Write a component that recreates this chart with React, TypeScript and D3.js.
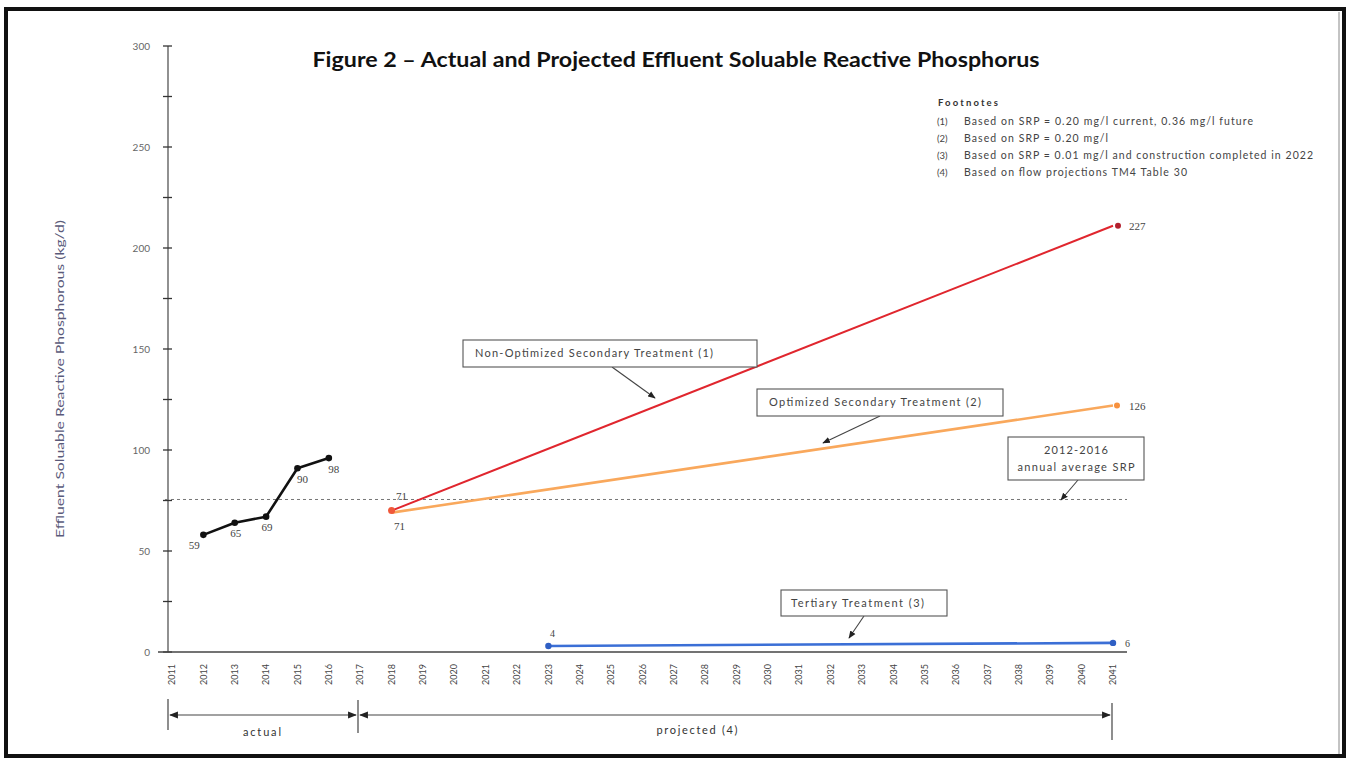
import * as d3 from 'd3';

// values
const years = d3.range(2011, 2042);
const actualYears = [2012, 2013, 2014, 2015, 2016];
const actualValues = [58, 64, 67, 91, 96];
const actualLabels = ['59', '65', '69', '90', '98'];
const projYears = [2018, 2041];
const nonOptValues = [70, 211];
const optValues = [69, 122];
const tertYears = [2023, 2041];
const tertValues = [3, 4.5];
const avgSrp = 75.5;
const yTicks = d3.range(0, 301, 25);
const footnotes = [
  ['(1)', 'Based on SRP = 0.20 mg/l current, 0.36 mg/l future'],
  ['(2)', 'Based on SRP = 0.20 mg/l'],
  ['(3)', 'Based on SRP = 0.01 mg/l and construction completed in 2022'],
  ['(4)', 'Based on flow projections TM4 Table 30'],
];
const footnoteWidths = [289, 144, 349, 223];

const W = 1356;
const H = 767;
const sans = "Lato, 'Open Sans', sans-serif";
const serif = "'Liberation Serif', 'DejaVu Serif', serif";

export default function App() {
  const x = d3.scaleLinear().domain([2011, 2041]).range([172, 1113]);
  const y = d3.scaleLinear().domain([0, 300]).range([652, 46]);
  const axisX = 168;

  const line = d3.line<[number, number]>()
    .x(d => x(d[0]))
    .y(d => y(d[1]));

  const actualPts = actualYears.map((yr, i) => [yr, actualValues[i]] as [number, number]);
  const nonOptPts = projYears.map((yr, i) => [yr, nonOptValues[i]] as [number, number]);
  const optPts = projYears.map((yr, i) => [yr, optValues[i]] as [number, number]);
  const tertPts = tertYears.map((yr, i) => [yr, tertValues[i]] as [number, number]);

  // callout boxes with a pointer line
  const callouts = [
    { x: 463, y: 340, w: 294, h: 27, lines: ['Non-Optimized Secondary Treatment (1)'], widths: [238], from: [612, 367], to: [655, 398], align: 'start', pad: 12 },
    { x: 757, y: 389, w: 246, h: 27, lines: ['Optimized Secondary Treatment (2)'], widths: [212], from: [880, 416], to: [823, 443], align: 'start', pad: 12 },
    { x: 1008, y: 437, w: 136, h: 43, lines: ['2012-2016', 'annual average SRP'], widths: [64, 117], from: [1078, 480], to: [1061, 500], align: 'middle', pad: 0 },
    { x: 781, y: 590, w: 166, h: 26, lines: ['Tertiary Treatment (3)'], widths: [133], from: [864, 616], to: [849, 638], align: 'start', pad: 10 },
  ];

  const bracketY = 715;

  return (
    <svg width={W} height={H} style={{ position: 'absolute', left: 0, top: 0, background: '#fff' }}>
      <defs>
        <marker id="arr" viewBox="0 0 10 10" refX="9" refY="5" markerWidth="7" markerHeight="7" orient="auto">
          <path d="M0,1 L10,5 L0,9 Z" fill="#222" />
        </marker>
        <marker id="arrB" viewBox="0 0 10 10" refX="9" refY="5" markerWidth="8" markerHeight="8" orient="auto-start-reverse">
          <path d="M0,1 L10,5 L0,9 Z" fill="#222" />
        </marker>
      </defs>

      {/* page frame */}
      <rect x={6} y={9} width={1338} height={747} fill="none" stroke="#111" strokeWidth={4} />
      <line x1={1339} y1={12} x2={1339} y2={754} stroke="#888" strokeWidth={1} />

      {/* title */}
      <text x={676} y={67} textAnchor="middle" fontFamily={sans} fontWeight="bold" fontSize={21}
        fill="#111" textLength={727} lengthAdjust="spacingAndGlyphs">
        Figure 2 – Actual and Projected Effluent Soluable Reactive Phosphorus
      </text>

      {/* y axis */}
      <line x1={axisX} y1={y(300)} x2={axisX} y2={y(0)} stroke="#555" strokeWidth={1.3} />
      {yTicks.map(t => (
        <g key={t}>
          <line x1={axisX - 5} x2={axisX + 4} y1={y(t)} y2={y(t)} stroke="#333" strokeWidth={1.3} />
          {t % 50 === 0 && (
            <text x={axisX - 18} y={y(t)} dy="0.35em" textAnchor="end" fontFamily={sans} fontSize={10} fill="#666">
              {t}
            </text>
          )}
        </g>
      ))}
      <text transform={`translate(64,${(y(0) + y(300)) / 2 + 30}) rotate(-90)`} textAnchor="middle"
        fontFamily={sans} fontSize={11} fill="#5a5a7a" textLength={318} lengthAdjust="spacingAndGlyphs">
        Effluent Soluable Reactive Phosphorous (kg/d)
      </text>

      {/* x axis */}
      <line x1={158} x2={1127} y1={y(0)} y2={y(0)} stroke="#444" strokeWidth={1.3} />
      {years.map(yr => (
        <text key={yr} transform={`translate(${x(yr)},${y(0) + 12}) rotate(-90)`} textAnchor="end" dy="0.35em"
          fontFamily={sans} fontSize={9} fill="#444">
          {yr}
        </text>
      ))}

      {/* average line */}
      <line x1={165} x2={1127} y1={y(avgSrp)} y2={y(avgSrp)} stroke="#777" strokeWidth={1} strokeDasharray="3,3" />

      {/* actual */}
      <path d={line(actualPts) || ''} fill="none" stroke="#111" strokeWidth={2.6} strokeLinejoin="round" />
      {actualPts.map((p, i) => (
        <g key={i}>
          <circle cx={x(p[0])} cy={y(p[1])} r={3.3} fill="#111" />
          <text x={x(p[0]) + (i === 0 ? -9 : i >= 3 ? 5 : 1)} y={y(p[1]) + (i >= 3 ? 15 : 14)} textAnchor="middle"
            fontFamily={serif} fontSize={11} fill="#444">
            {actualLabels[i]}
          </text>
        </g>
      ))}

      {/* projections */}
      <path d={line(optPts) || ''} fill="none" stroke="#f9a85c" strokeWidth={2.6} />
      <path d={line(nonOptPts) || ''} fill="none" stroke="#e0262e" strokeWidth={2} />
      <circle cx={x(2018)} cy={y(nonOptValues[0])} r={3.5} fill="#f0583a" />
      <circle cx={x(2041) + 5} cy={y(nonOptValues[1])} r={3} fill="#b3202e" />
      <circle cx={x(2041) + 4} cy={y(optValues[1])} r={3} fill="#f7913e" />
      <text x={x(2018) + 10} y={y(nonOptValues[0]) - 11} textAnchor="middle" fontFamily={serif} fontSize={11} fill="#444">71</text>
      <text x={x(2018) + 8} y={y(optValues[0]) + 17} textAnchor="middle" fontFamily={serif} fontSize={11} fill="#444">71</text>
      <text x={x(2041) + 16} y={y(nonOptValues[1]) + 4} fontFamily={serif} fontSize={11} fill="#444">227</text>
      <text x={x(2041) + 16} y={y(optValues[1]) + 4} fontFamily={serif} fontSize={11} fill="#444">126</text>

      {/* tertiary */}
      <path d={line(tertPts) || ''} fill="none" stroke="#3b6fd6" strokeWidth={2.6} />
      {tertPts.map((p, i) => (
        <circle key={i} cx={x(p[0])} cy={y(p[1])} r={3.2} fill="#2f5fc4" />
      ))}
      <text x={x(2023) + 4} y={y(tertValues[0]) - 9} textAnchor="middle" fontFamily={serif} fontSize={10} fill="#444">4</text>
      <text x={x(2041) + 12} y={y(tertValues[1]) + 4} fontFamily={serif} fontSize={10} fill="#444">6</text>

      {/* callouts */}
      {callouts.map((c, i) => (
        <g key={i}>
          <line x1={c.from[0]} y1={c.from[1]} x2={c.to[0]} y2={c.to[1]} stroke="#444" strokeWidth={1.1} markerEnd="url(#arr)" />
          <rect x={c.x} y={c.y} width={c.w} height={c.h} fill="#fff" stroke="#555" strokeWidth={1.1} />
          {c.lines.map((t, j) => (
            <text key={j}
              x={c.align === 'middle' ? c.x + c.w / 2 : c.x + c.pad}
              y={c.y + (c.lines.length === 1 ? c.h / 2 : 13 + j * 17)}
              dy="0.35em" textAnchor={c.align} fontFamily={sans} fontSize={11} fill="#444"
              textLength={c.widths[j]} lengthAdjust="spacing">
              {t}
            </text>
          ))}
        </g>
      ))}

      {/* footnotes */}
      <text x={938} y={106} fontFamily={sans} fontSize={9.5} fontWeight="bold" fill="#333"
        textLength={60} lengthAdjust="spacing">Footnotes</text>
      {footnotes.map((f, i) => (
        <g key={i} fontFamily={sans} fontSize={10.5} fill="#444">
          <text x={937} y={125 + i * 17} fontSize={9.5}>{f[0]}</text>
          <text x={964} y={125 + i * 17} textLength={footnoteWidths[i]} lengthAdjust="spacing">{f[1]}</text>
        </g>
      ))}

      {/* actual / projected brackets */}
      <line x1={168} x2={168} y1={699} y2={730} stroke="#444" strokeWidth={1.2} />
      <line x1={358} x2={358} y1={700} y2={733} stroke="#444" strokeWidth={1.2} />
      <line x1={1112} x2={1112} y1={703} y2={740} stroke="#444" strokeWidth={1.2} />
      <line x1={170} x2={356} y1={bracketY} y2={bracketY} stroke="#444" strokeWidth={1.1}
        markerStart="url(#arrB)" markerEnd="url(#arrB)" />
      <line x1={360} x2={1110} y1={bracketY} y2={bracketY} stroke="#444" strokeWidth={1.1}
        markerStart="url(#arrB)" markerEnd="url(#arrB)" />
      <text x={262} y={736} textAnchor="middle" fontFamily={sans} fontSize={11} fill="#333"
        textLength={38} lengthAdjust="spacing">actual</text>
      <text x={697} y={734} textAnchor="middle" fontFamily={sans} fontSize={11} fill="#333"
        textLength={81} lengthAdjust="spacing">projected (4)</text>
    </svg>
  );
}
